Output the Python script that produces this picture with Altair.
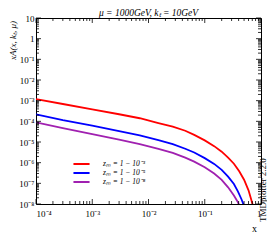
import altair as alt
import pandas as pd

# ---- data ----
x_red = [1e-4, 3e-4, 1e-3, 3e-3, 7e-3, 1.5e-2, 2.7e-2, 4.5e-2, 6.5e-2, 0.1, 0.147, 0.2, 0.26, 0.33, 0.41, 0.5, 0.6, 0.7, 0.76]
y_red = [1.2e-3, 6.9e-4, 3.8e-4, 2.2e-4, 1.41e-4, 8.3e-5, 5.6e-5, 3.5e-5, 2.2e-5, 1.2e-5, 6.3e-6, 3.4e-6, 1.74e-6, 8.9e-7, 3.8e-7, 1.5e-7, 4.6e-8, 1.1e-8, 3.6e-9]

x_blue = [1e-4, 3e-4, 1e-3, 3e-3, 7e-3, 1.5e-2, 2.7e-2, 4.5e-2, 6.5e-2, 0.1, 0.147, 0.2, 0.26, 0.33, 0.39, 0.45, 0.5, 0.53]
y_blue = [2.2e-4, 1.15e-4, 6.2e-5, 3.4e-5, 2.1e-5, 1.23e-5, 7.9e-6, 4.7e-6, 3.1e-6, 1.66e-6, 8.7e-7, 4.5e-7, 2.1e-7, 9.3e-8, 4.0e-8, 1.7e-8, 8e-9, 4e-9]

x_purple = [1e-4, 3e-4, 1e-3, 3e-3, 7e-3, 1.5e-2, 2.7e-2, 4.5e-2, 6.5e-2, 0.1, 0.147, 0.2, 0.26, 0.33, 0.39, 0.43]
y_purple = [8.9e-5, 4.7e-5, 2.4e-5, 1.32e-5, 7.9e-6, 4.7e-6, 3.0e-6, 1.74e-6, 1.12e-6, 6.0e-7, 3.0e-7, 1.48e-7, 6.4e-8, 2.6e-8, 1.2e-8, 6e-9]

series_names = ["zₘ = 1 − 10⁻³", "zₘ = 1 − 10⁻⁵", "zₘ = 1 − 10⁻⁸"]
series_colors = ["#ff0000", "#0000ff", "#a020b0"]

x_major = [1e-4, 1e-3, 1e-2, 1e-1, 1]
y_major = [1e-8, 1e-7, 1e-6, 1e-5, 1e-4, 1e-3, 1e-2, 1e-1, 1, 10]
x_minor = [m * d for d in [1e-4, 1e-3, 1e-2, 1e-1] for m in range(2, 10)]
y_minor = [m * d for d in [1e-8, 1e-7, 1e-6, 1e-5, 1e-4, 1e-3, 1e-2, 1e-1, 1] for m in range(2, 10)]

W, H = 225, 186
MAJ, MIN = 5, 3
FONT = "Liberation Serif"

rows = []
for name, xs, ys in zip(series_names, [x_red, x_blue, x_purple], [y_red, y_blue, y_purple]):
    for a, b in zip(xs, ys):
        rows.append({"series": name, "x": a, "y": b})
df = pd.DataFrame(rows)

xscale = alt.Scale(type="log", domain=[1e-4, 1], nice=False)
yscale = alt.Scale(type="log", domain=[1e-8, 10], nice=False)

sup = "['⁰','¹','²','³','⁴','⁵','⁶','⁷','⁸','⁹']"
x_label = f"datum.value > 0.5 ? '1' : '10⁻' + {sup}[round(-log(datum.value)/LN10)]"
y_label = f"datum.value > 5 ? '10' : datum.value > 0.5 ? '1' : '10⁻' + {sup}[round(-log(datum.value)/LN10)]"

xaxis = alt.Axis(values=x_major, labelExpr=x_label, ticks=False, domain=False, grid=False,
                 labelFont=FONT, labelFontSize=9, labelPadding=5, labelColor="black",
                 title="x", titleFont=FONT, titleFontSize=10, titleFontWeight="normal", titleColor="black",
                 titleX=W - 7, titleY=19, titleBaseline="top", titleAlign="center")
yaxis = alt.Axis(values=y_major, labelExpr=y_label, ticks=False, domain=False, grid=False,
                 labelFont=FONT, labelFontSize=9, labelPadding=2, labelColor="black",
                 title="xA(x, kₜ, μ)", titleFont=FONT, titleFontStyle="italic", titleColor="black",
                 titleFontSize=9, titleFontWeight="normal",
                 titleX=-28, titleY=22, titleBaseline="top", titleAlign="center")

lines = alt.Chart(df).mark_line(clip=True, strokeWidth=1.8).encode(
    x=alt.X("x:Q", scale=xscale, axis=xaxis),
    y=alt.Y("y:Q", scale=yscale, axis=yaxis),
    color=alt.Color("series:N", scale=alt.Scale(domain=series_names, range=series_colors),
                    sort=series_names,
                    legend=alt.Legend(title=None, orient="none", legendX=41, legendY=141.5,
                                      symbolType="M-2.3,0H2.3", symbolSize=49, symbolStrokeWidth=2,
                                      labelFont=FONT, labelFontStyle="italic", labelFontSize=7.5,
                                      labelOffset=17, rowPadding=0, padding=0,
                                      labelColor="black")),
)

xt_major = pd.DataFrame({"x": x_major})
xt_minor = pd.DataFrame({"x": x_minor})
yt_major = pd.DataFrame({"y": y_major})
yt_minor = pd.DataFrame({"y": y_minor})

def xticks(data, y0, y1):
    return alt.Chart(data).mark_rule(color="black", strokeWidth=0.8).encode(
        x=alt.X("x:Q", scale=xscale, axis=xaxis), y=alt.value(y0), y2=alt.value(y1))

def yticks(data, x0, x1):
    return alt.Chart(data).mark_rule(color="black", strokeWidth=0.8).encode(
        y=alt.Y("y:Q", scale=yscale, axis=yaxis), x=alt.value(x0), x2=alt.value(x1))

ticks = [
    xticks(xt_major, H, H - MAJ), xticks(xt_minor, H, H - MIN),
    xticks(xt_major, 0, MAJ), xticks(xt_minor, 0, MIN),
    yticks(yt_major, 0, MAJ), yticks(yt_minor, 0, MIN),
    yticks(yt_major, W, W - MAJ), yticks(yt_minor, W, W - MIN),
]

stamp = alt.Chart(pd.DataFrame({"t": ["TMDplotter 2.2.0"]})).mark_text(
    angle=270, font=FONT, fontSize=9, color="black", baseline="bottom", align="center"
).encode(text="t:N", x=alt.value(W + 6.5), y=alt.value(172))

chart = alt.layer(lines, *ticks, stamp).properties(
    width=W, height=H,
    title=alt.TitleParams(text="μ = 1000GeV, kₜ = 10GeV", font=FONT, fontStyle="italic",
                          fontSize=9.5, fontWeight="normal", offset=3, dy=6, anchor="middle",
                          frame="group", color="black"),
    autosize=alt.AutoSizeParams(type="none"),
    padding={"left": 28, "top": 10, "right": 6, "bottom": 30},
).configure_view(stroke="black", strokeWidth=1)

chart.save("out.html", embed_options={"renderer": "svg", "actions": False})
